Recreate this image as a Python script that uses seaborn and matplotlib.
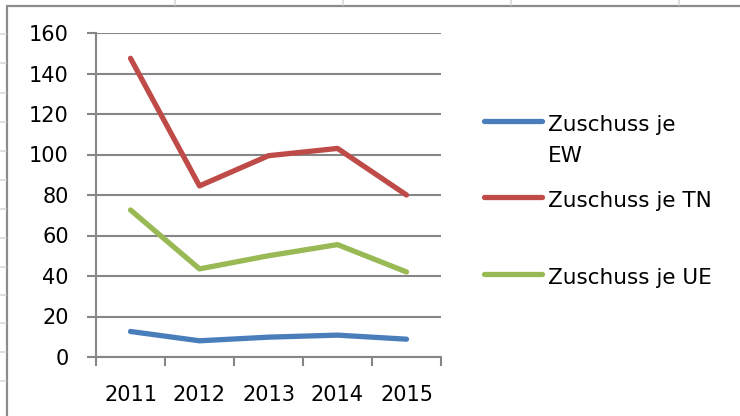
import matplotlib
matplotlib.use("Agg")
import matplotlib.pyplot as plt
from matplotlib.lines import Line2D
import seaborn as sns
import pandas as pd

years = ["2011", "2012", "2013", "2014", "2015"]
series_names = ["Zuschuss je EW", "Zuschuss je TN", "Zuschuss je UE"]
legend_lines = [["Zuschuss je", "EW"], ["Zuschuss je TN"], ["Zuschuss je UE"]]
zuschuss_ew = [12.6, 8.0, 9.8, 10.8, 8.8]
zuschuss_tn = [147.5, 84.5, 99.4, 103.0, 80.0]
zuschuss_ue = [72.6, 43.5, 50.0, 55.5, 42.0]
y_ticks = [0, 20, 40, 60, 80, 100, 120, 140, 160]
colors = ["#4A7EBB", "#BE4B48", "#98B954"]

df = pd.DataFrame({
    "Jahr": years * 3,
    "Serie": [series_names[0]] * 5 + [series_names[1]] * 5 + [series_names[2]] * 5,
    "Wert": zuschuss_ew + zuschuss_tn + zuschuss_ue,
})

sns.set_theme(style="white")
plt.rcParams["font.family"] = ["DejaVu Sans"]

W, H = 740, 416
fig = plt.figure(figsize=(7.4, 4.16), dpi=100)
ax = fig.add_axes([96 / W, 1 - 357 / H, 345 / W, 324 / H])

sns.lineplot(data=df, x="Jahr", y="Wert", hue="Serie", palette=colors,
             linewidth=3.8, ax=ax, legend=False, solid_capstyle="round",
             solid_joinstyle="round")

grid_c = "#868686"
ax.set_xlim(-0.5, 4.5)
ax.set_ylim(0, 160)
ax.set_yticks(y_ticks)
ax.yaxis.grid(True, color=grid_c, linewidth=1.5)
ax.xaxis.grid(False)
ax.set_axisbelow(True)
for s in ["top", "right"]:
    ax.spines[s].set_visible(False)
for s in ["left", "bottom"]:
    ax.spines[s].set_color(grid_c)
    ax.spines[s].set_linewidth(1.5)
ax.set_xlabel("")
ax.set_ylabel("")
ax.tick_params(axis="y", which="major", length=6.5, width=1.5, color=grid_c,
               direction="out", pad=13, labelsize=15, left=True, labelcolor="black")
ax.set_xticks(range(len(years)))
ax.set_xticklabels(years)
ax.set_xticks([i - 0.5 for i in range(len(years) + 1)], minor=True)
ax.tick_params(axis="x", which="major", length=0, pad=20, labelsize=15, labelcolor="black")
ax.tick_params(axis="x", which="minor", length=6.5, width=1.5, color=grid_c,
               direction="out", bottom=True)

# legend (Excel-style, evenly spaced entries, handle aligned with first text line)
handle_y = [121, 197, 274]
for i, (lines, hy) in enumerate(zip(legend_lines, handle_y)):
    col = ax.lines[i].get_color()
    fig.add_artist(Line2D([484 / W, 542 / W], [1 - hy / H, 1 - hy / H],
                          transform=fig.transFigure, color=col, linewidth=3.8,
                          solid_capstyle="round"))
    for k, txt in enumerate(lines):
        base = hy + 10 + 31 * k
        fig.text(548 / W, 1 - base / H, txt, fontsize=15.5, color="black",
                 ha="left", va="baseline")

# chart border and surrounding spreadsheet cell lines
fig.add_artist(Line2D([7 / W, 7 / W], [0, 1 - 6 / H], transform=fig.transFigure,
                      color="#8c8c8c", linewidth=1.6))
fig.add_artist(Line2D([7 / W, 1], [1 - 6 / H, 1 - 6 / H], transform=fig.transFigure,
                      color="#8c8c8c", linewidth=1.6))
for xp in [175, 343, 511, 679]:
    fig.add_artist(Line2D([xp / W, xp / W], [1 - 5 / H, 1], transform=fig.transFigure,
                          color="#d9d9d9", linewidth=1.2))
for yp in [34, 63, 93, 122, 151, 180, 209, 238, 267, 295, 323, 352, 381]:
    fig.add_artist(Line2D([0, 6 / W], [1 - yp / H, 1 - yp / H], transform=fig.transFigure,
                          color="#d9d9d9", linewidth=1.2))

fig.savefig("out.png", dpi=100)
